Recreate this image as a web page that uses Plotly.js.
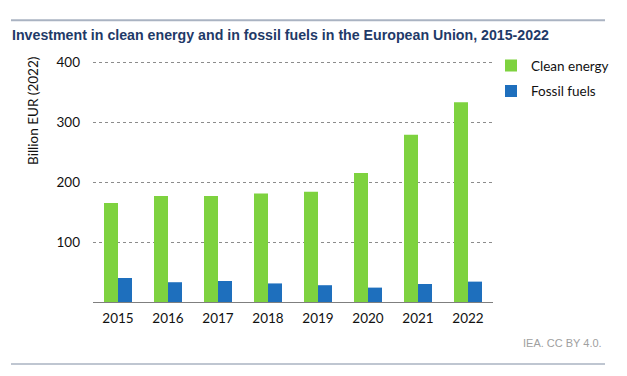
<!DOCTYPE html>
<html>
<head>
<meta charset="utf-8">
<script src="https://cdn.plot.ly/plotly-3.0.1.min.js"></script>
<style>html,body{margin:0;padding:0;background:#fff;}#chart{width:627px;height:376px;}</style>
</head>
<body>
<div id="chart"></div>
<script>
const years = ['2015','2016','2017','2018','2019','2020','2021','2022'];
const cleanEnergy = [165, 177, 177, 181, 184, 215, 279, 333];
const fossilFuels = [40, 33, 35, 31, 28, 24, 30, 34];
const yTickVals = [100, 200, 300, 400];
const yTickText = ['100', '200', '300', '400'];

const baseFont = 'Lato, "Open Sans", sans-serif';
const fs = 13.5;

const traces = [
  {type: 'bar', name: 'Clean energy', x: years, y: cleanEnergy,
   marker: {color: '#7ed23f'}, legendgroup: 'a', hoverinfo: 'x+y'},
  {type: 'bar', name: 'Fossil fuels', x: years, y: fossilFuels,
   marker: {color: '#1e6fbd'}, legendgroup: 'b', hoverinfo: 'x+y'}
];

const layout = {
  width: 627, height: 376,
  margin: {l: 93, r: 134, t: 61, b: 74},
  paper_bgcolor: '#ffffff', plot_bgcolor: '#ffffff',
  font: {family: baseFont, size: fs, color: '#111111'},
  barmode: 'group', bargap: 0.44, bargroupgap: 0,
  title: {
    text: '<b>Investment in clean energy and in fossil fuels in the European Union, 2015-2022</b>',
    font: {family: '"Liberation Sans", Arial, sans-serif', size: 14.2, color: '#1f3a68'},
    x: 12/627, xref: 'container', xanchor: 'left',
    y: 1 - 35/376, yref: 'container', yanchor: 'middle'
  },
  xaxis: {
    type: 'category', showgrid: false, zeroline: false,
    showline: true, linecolor: '#7f7f7f', linewidth: 1,
    ticks: '', ticklabelstandoff: 4,
    tickfont: {family: baseFont, size: fs, color: '#111111'}
  },
  yaxis: {
    range: [0, 402], tickvals: yTickVals, ticktext: yTickText,
    showgrid: true, gridcolor: '#8c8c8c', gridwidth: 1, griddash: 'dot',
    zeroline: false, showline: false, ticks: '', ticklabelstandoff: 12,
    tickfont: {family: baseFont, size: fs, color: '#111111'}
  },
  showlegend: true,
  legend: {
    x: 0.995, xanchor: 'left', y: 1.045, yanchor: 'top',
    font: {family: baseFont, size: fs, color: '#111111'},
    traceorder: 'grouped', tracegroupgap: 5,
    bgcolor: 'rgba(0,0,0,0)'
  },
  annotations: [
    {text: 'Billion EUR (2022)', textangle: -90, xref: 'paper', yref: 'paper',
     x: (33 - 93)/400, y: (302.3 - 112)/240, xanchor: 'center', yanchor: 'middle',
     showarrow: false, font: {family: baseFont, size: fs, color: '#111111'}},
    {text: 'IEA. CC BY 4.0.', xref: 'paper', yref: 'paper',
     x: (604 - 93)/400, y: (302.3 - 342.7)/240, xanchor: 'right', yanchor: 'middle',
     showarrow: false, font: {family: '"Liberation Sans", Arial, sans-serif', size: 11, color: '#a0a0a0'}}
  ],
  shapes: [
    {type: 'line', xref: 'paper', yref: 'paper',
     x0: (11 - 93)/400, x1: (605 - 93)/400, y0: (302.3 - 21.7)/240, y1: (302.3 - 21.7)/240,
     line: {color: '#aab3c2', width: 2}},
    {type: 'line', xref: 'paper', yref: 'paper',
     x0: (11 - 93)/400, x1: (605 - 93)/400, y0: (302.3 - 364)/240, y1: (302.3 - 364)/240,
     line: {color: '#aab3c2', width: 1.5}}
  ]
};

Plotly.newPlot('chart', traces, layout, {displayModeBar: false, staticPlot: true});
</script>
</body>
</html>
